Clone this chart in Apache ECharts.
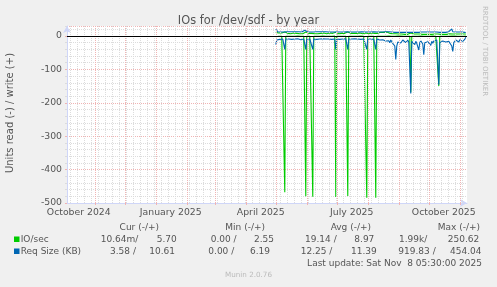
<!DOCTYPE html>
<html><head><meta charset="utf-8">
<script src="https://cdn.jsdelivr.net/npm/echarts@6/dist/echarts.min.js"></script>
<style>html,body{margin:0;padding:0;background:#F0F0F0;}#c{width:497px;height:287px;}</style>
</head><body><div id="c"></div>
<script>
// ---- data (daily samples starting at firstDay) ----
const firstDay = [2025, 4, 1]; // 1 May 2025 (UTC, month 0-based)
const ioRead = [
-2,-0.5,-0.4,-0.6,-0.5,-0.4,-0.5,-0.6,-0.5,-468,
-0.5,-0.4,-0.6,-0.5,-0.4,-0.5,-0.6,-0.5,-0.4,-0.5,
-0.6,-0.5,-0.4,-0.5,-0.6,-0.5,-0.4,-0.5,-0.6,-0.5,
-480,-0.5,-0.4,-0.6,-0.5,-0.4,-0.5,-481,-0.5,-0.4,
-0.5,-0.6,-0.5,-0.4,-0.5,-0.6,-0.5,-0.4,-0.5,-0.6,
-0.5,-0.4,-0.5,-0.6,-0.5,-0.4,-0.5,-0.6,-0.5,-0.4,
-482,-0.5,-0.4,-0.6,-0.5,-0.4,-0.5,-0.6,-0.5,-0.4,
-0.5,-0.6,-479,-0.5,-0.4,-0.6,-0.5,-0.4,-0.5,-0.6,
-0.5,-0.4,-0.5,-0.6,-0.5,-0.4,-0.5,-0.6,-0.5,-0.4,
-0.5,-484,-0.5,-0.4,-0.6,-0.5,-0.4,-0.5,-0.6,-0.5,
-484,-0.5,-0.4,-0.6,-0.5,-0.4,-0.5,-0.6,-0.5,-0.4,
-0.5,-0.6,-0.5,-0.4,-0.5,-0.6,-0.5,-0.4,-0.5,-0.6,
-1.5,-0.5,-0.4,-0.6,-0.5,-0.4,-0.5,-0.6,-0.5,-0.4,
-0.5,-0.6,-0.5,-0.4,-0.5,-168,-0.5,-0.4,-0.6,-0.5,
-0.4,-0.5,-0.6,-1,-0.5,-0.4,-0.5,-1.2,-0.5,-0.4,
-0.5,-0.6,-0.5,-0.4,-0.5,-0.6,-0.5,-0.4,-0.5,-0.6,
-0.5,-0.4,-0.5,-150,-0.5,-0.4,-0.6,-0.5,-0.4,-0.5,
-0.6,-0.5,-0.4,-0.5,-0.6,-0.5,-0.4,-1,-0.5,-0.4,
-0.5,-0.6,-0.5,-0.4,-0.5,-0.6,-0.5,-0.4,-0.5,-0.6,
-0.01
];
const ioWrite = [
11,10,9,9,10,8,9,8,9,12,
8,7,8,9,8,7,8,8,9,8,
7,8,9,8,7,8,8,7,8,9,
12,8,7,8,8,9,8,11,8,7,
8,8,7,9,8,8,7,8,9,8,
8,7,8,8,9,8,7,8,8,7,
11,8,8,7,8,9,8,8,7,8,
8,9,12,8,7,8,8,9,8,7,
8,8,7,8,9,8,8,7,8,8,
9,12,8,7,8,8,9,8,7,8,
11,8,8,9,10,11,12,12,11,12,
11,12,10,9,8,7,6,7,6,6,
7,6,5,6,6,5,6,7,6,5,
6,6,5,6,6,9,6,5,6,6,
5,6,6,5,6,7,6,5,6,6,
5,6,6,5,6,6,5,6,7,6,
6,5,6,8,6,5,6,6,5,6,
6,5,6,6,7,6,5,6,6,5,
6,6,5,6,6,5,6,6,5,6,
5.7
];
const sizeRead = [
-26,-12,-9,-8,-10,-9,-8,-9,-10,-40,
-9,-8,-10,-9,-8,-9,-10,-9,-8,-9,
-10,-9,-8,-9,-10,-11,-9,-8,-9,-10,
-40,-9,-8,-10,-9,-8,-9,-40,-9,-8,
-9,-10,-9,-8,-9,-10,-9,-8,-9,-10,
-9,-8,-10,-9,-8,-9,-10,-9,-8,-9,
-40,-9,-8,-9,-10,-9,-8,-9,-10,-9,
-8,-9,-40,-9,-10,-8,-9,-12,-9,-8,
-9,-10,-9,-8,-9,-10,-9,-8,-9,-10,
-9,-40,-9,-8,-10,-9,-8,-9,-10,-9,
-40,-9,-10,-9,-12,-10,-14,-11,-13,-12,
-15,-12,-18,-14,-20,-12,-16,-22,-25,-30,
-70,-30,-18,-15,-13,-21,-16,-12,-17,-14,
-20,-15,-12,-18,-14,-172,-16,-13,-20,-26,
-16,-22,-18,-42,-20,-14,-18,-24,-56,-20,
-16,-25,-17,-14,-20,-28,-16,-22,-15,-18,
-13,-12,-16,-146,-20,-18,-24,-15,-20,-12,
-18,-14,-22,-16,-12,-20,-30,-46,-20,-15,
-12,-10,-14,-18,-11,-9,-13,-16,-12,-10,
-3.58
];
const sizeWrite = [
20,15,13,12,13,12,13,12,12,14,
12,13,12,12,13,12,12,13,12,12,
13,12,12,13,14,13,12,12,13,17,
14,12,12,13,12,12,13,14,12,12,
12,13,12,12,13,12,12,13,12,12,
13,12,12,12,13,12,12,13,12,12,
14,12,12,13,12,12,12,13,12,12,
12,13,14,12,12,13,12,12,12,13,
12,12,13,12,12,12,13,12,12,12,
13,14,12,12,13,12,12,12,13,12,
14,12,12,13,12,12,13,12,12,12,
13,12,12,13,12,11,12,11,12,11,
12,11,11,12,11,11,12,11,11,12,
11,11,12,11,11,14,11,11,12,11,
11,12,11,11,12,11,12,11,11,12,
11,11,12,11,11,12,11,11,12,11,
11,12,11,13,11,11,12,11,11,12,
11,11,12,13,14,15,21,13,12,11,
12,11,11,12,11,11,12,11,11,11,
10.61
];
const xLabelDates = ['2024-10-16','2025-01-16','2025-04-16','2025-07-16','2025-10-16'];
const xLabelTexts = ['October 2024','January 2025','April 2025','July 2025','October 2025'];
const monthGrid = ['2024-11-01','2024-12-01','2025-01-01','2025-02-01','2025-03-01','2025-04-01','2025-05-01','2025-06-01','2025-07-01','2025-08-01','2025-09-01','2025-10-01','2025-11-01'];
const yTickLabels = ['0','-100','-200','-300','-400','-500'];
const legendHead = ['Cur (-/+)','Min (-/+)','Avg (-/+)','Max (-/+)'];
const legendIO = ['10.64m/','5.70','0.00 /','2.55','19.14 /','8.97','1.99k/','250.62'];
const legendSize = ['3.58 /','10.61','0.00 /','6.19','12.25 /','11.39','919.83 /','454.04'];

// ---- build ----
const DAY = 86400000;
const ts = s => { const p = s.split('-').map(Number); return Date.UTC(p[0], p[1]-1, p[2]); };
const t0 = Date.UTC(firstDay[0], firstDay[1], firstDay[2]);
const pair = arr => arr.map((v, i) => [t0 + i*DAY, v]);
const xMin = Date.UTC(2024, 9, 4, 5, 30);
const xMax = Date.UTC(2025, 10, 8, 5, 30);
const weekGrid = [];
for (let t = Date.UTC(2024, 9, 7); t < xMax; t += 7*DAY) weekGrid.push(t);
const labelMap = {};
xLabelDates.forEach((d, i) => labelMap[ts(d)] = xLabelTexts[i]);

const FONT = 'DejaVu Sans';
const TXT = '#555555';
const GREEN = '#00CC00', BLUE = '#0066B3';
const GRID_C = '#DCDCDC', MGRID_C = '#F0B4B4';
const txt = (text, x, y, align, size, color, extra) => Object.assign({
  type: 'text', x: x, y: y, silent: true,
  style: { text: text, align: align || 'left', verticalAlign: 'middle', fontFamily: FONT, fontSize: size || 9, fill: color || TXT }
}, extra || {});

const colL = [100.7,156.7,210.7,254,305,354.3,399,447.7];
const colL2 = [110,149.3,208.3,250,300.7,351,398.3,450];
const headR = [159,265,371,480];
const graphics = [
  txt('IOs for /dev/sdf - by year', 248.5, 21.5, 'center', 11.4, TXT),
  txt('Units read (-) / write (+)', 10, 113, 'center', 10, TXT, {rotation: Math.PI/2}),
  txt('RRDTOOL / TOBI OETIKER', 485, 51, 'center', 7, '#BBBBBB', {rotation: -Math.PI/2}),
  {type:'rect', shape:{x:14, y:236.5, width:5.5, height:5.5}, style:{fill:GREEN}, silent:true},
  {type:'rect', shape:{x:14, y:248.5, width:5.5, height:5.5}, style:{fill:BLUE}, silent:true},
  txt('IO/sec', 20.7, 239.5, 'left'),
  txt('Req Size (KB)', 20.7, 251.3, 'left'),
  txt('Last update: Sat Nov  8 05:30:00 2025', 482, 263.5, 'right'),
  txt('Munin 2.0.76', 248.5, 275, 'center', 7.2, '#BBBBBB')
];
legendHead.forEach((h, i) => graphics.push(txt(h, headR[i], 227.5, 'right')));
legendIO.forEach((h, i) => graphics.push(txt(h, colL[i], 239.5, 'left')));
legendSize.forEach((h, i) => graphics.push(txt(h, colL2[i], 251.3, 'left')));

const dotted = [1, 1];
const chart = echarts.init(document.getElementById('c'), null, {renderer: 'canvas'});
chart.setOption({
  animation: false,
  backgroundColor: '#F0F0F0',
  grid: {left: 67, right: 30, top: 26, bottom: 84, show: true, backgroundColor: '#FFFFFF', borderWidth: 0},
  xAxis: {
    type: 'value', min: xMin, max: xMax, position: 'bottom',
    axisLine: {show: true, onZero: false, lineStyle: {color: '#CFD6F8', width: 1}, symbol: ['none', 'arrow'], symbolSize: [6, 7]},
    axisTick: {show: true, customValues: monthGrid.map(ts), length: 2, lineStyle: {color: MGRID_C, width: 1}},
    splitLine: {show: false},
    axisLabel: {
      customValues: xLabelDates.map(ts), hideOverlap: false,
      formatter: v => labelMap[v] || '',
      color: TXT, fontFamily: FONT, fontSize: 9.3, margin: 5
    }
  },
  yAxis: [
    {
      type: 'value', min: -500, max: 30, interval: 20, position: 'left',
      axisLine: {show: false}, axisLabel: {show: false},
      axisTick: {show: true, length: 2, lineStyle: {color: GRID_C, width: 1}},
      splitLine: {show: true, lineStyle: {color: GRID_C, width: 1, type: dotted}}
    },
    {
      type: 'value', min: -500, max: 30, interval: 100, position: 'left',
      axisLine: {show: true, onZero: false, lineStyle: {color: '#CFD6F8', width: 1}, symbol: ['none', 'arrow'], symbolSize: [6, 7]},
      axisTick: {show: true, length: 2, lineStyle: {color: MGRID_C, width: 1}},
      axisLabel: {show: true, showMaxLabel: false, color: TXT, fontFamily: FONT, fontSize: 9.3, margin: 5,
        formatter: v => { const k = Math.round(-v/100); return (v % 100 === 0 && yTickLabels[k] !== undefined) ? yTickLabels[k] : ''; }},
      splitLine: {show: true, lineStyle: {color: MGRID_C, width: 1, type: dotted}}
    }
  ],
  graphic: graphics,
  series: [
    { type: 'line', data: [], z: 1, silent: true,
      markLine: { silent: true, symbol: ['none','none'], label: {show: false}, animation: false,
        lineStyle: {color: GRID_C, width: 1, type: dotted},
        data: weekGrid.map(t => ({xAxis: t})) } },
    { type: 'line', data: [], z: 1, silent: true,
      markLine: { silent: true, symbol: ['none','none'], label: {show: false}, animation: false,
        lineStyle: {color: MGRID_C, width: 1, type: dotted},
        data: monthGrid.map(d => ({xAxis: ts(d)})) } },
    { name: 'IO/sec read', type: 'line', data: pair(ioRead), showSymbol: false, z: 3, silent: true,
      lineStyle: {color: GREEN, width: 1.1}, itemStyle: {color: GREEN} },
    { name: 'IO/sec write', type: 'line', data: pair(ioWrite), showSymbol: false, z: 3, silent: true,
      lineStyle: {color: GREEN, width: 1.1}, itemStyle: {color: GREEN} },
    { name: 'Req Size read', type: 'line', data: pair(sizeRead), showSymbol: false, z: 4, silent: true,
      lineStyle: {color: BLUE, width: 1.1}, itemStyle: {color: BLUE} },
    { name: 'Req Size write', type: 'line', data: pair(sizeWrite), showSymbol: false, z: 4, silent: true,
      lineStyle: {color: BLUE, width: 1.1}, itemStyle: {color: BLUE} },
    { type: 'line', data: [], z: 6, silent: true,
      markLine: { silent: true, symbol: ['none','none'], label: {show: false}, animation: false,
        lineStyle: {color: '#000000', width: 1.2, type: 'solid'},
        data: [{yAxis: 0}] } }
  ]
});
</script></body></html>
